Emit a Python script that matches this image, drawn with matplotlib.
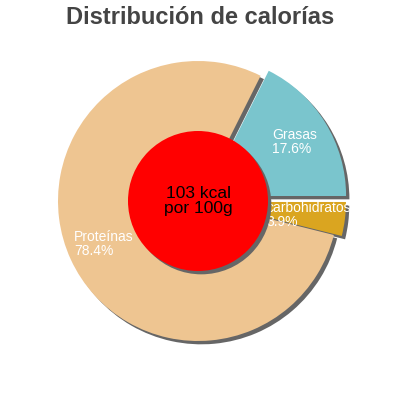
import numpy as np
import matplotlib
matplotlib.use('Agg')
import matplotlib.pyplot as plt
from matplotlib.patches import Circle, Shadow

plt.rcParams['font.family'] = ['Liberation Sans', 'DejaVu Sans']

# data
labels = ['Grasas', 'Proteínas', 'carbohidratos']
percents = [17.6, 78.4, 3.9]
colors = ['#7AC5CD', '#EEC591', '#DAA520']
explode = [9.5, 0, 8]
title = 'Distribución de calorías'
center_text = '103 kcal\npor 100g'

cx, cy, R = 198, 199, 140
shadow_off = 2.4  # points

fig = plt.figure(figsize=(4, 4), dpi=100)
ax = fig.add_axes([0, 0, 1, 1])

wedges, _ = ax.pie(percents, colors=colors, explode=explode, startangle=0,
                   counterclock=True, radius=R, center=(cx, cy), frame=True)
ax.set_xlim(0, 400)
ax.set_ylim(0, 400)
ax.set_aspect('equal')
ax.axis('off')


def add_shadow(patch, z):
    s = Shadow(patch, shadow_off, -shadow_off, facecolor='#666666',
               edgecolor='none', alpha=1)
    s.set_zorder(z)
    ax.add_patch(s)


for w in wedges:
    w.set_zorder(2)
    add_shadow(w, 1)

# labels along each wedge bisector
for w, lab, p, ex in zip(wedges, labels, percents, explode):
    th = np.deg2rad((w.theta1 + w.theta2) / 2)
    r = 0.74 * R + ex
    ax.text(cx + r * np.cos(th), cy + r * np.sin(th), '%s\n%.1f%%' % (lab, p),
            color='white', fontsize=10, ha='center', va='center',
            multialignment='left', linespacing=1.0, zorder=3)

red = Circle((cx, cy), R / 2, facecolor='#FF0000', edgecolor='none', zorder=4)
ax.add_patch(red)
add_shadow(red, 3.5)
ax.text(cx, cy, center_text, fontsize=12.5, ha='center', va='center',
        color='black', linespacing=1.0, zorder=5)

fig.text(0.5, 0.955, title, fontsize=17, fontweight='bold', color='#444444',
         ha='center', va='center')

fig.savefig('out.png', dpi=100)
